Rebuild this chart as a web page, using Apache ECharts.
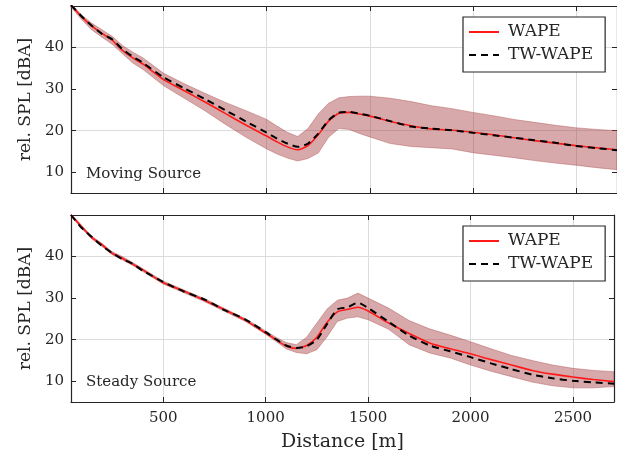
<!DOCTYPE html>
<html lang="en" style="height: 100%">

<head>
  <meta charset="utf-8">
  <title>rel. SPL vs Distance</title>
  <script src="https://cdn.jsdelivr.net/npm/echarts@6.0.0/dist/echarts.min.js"></script>
</head>

<body style="height: 100%; margin: 0; background: #fff">
  <div id="chart" style="height: 459px; width: 617px"></div>
  <script type="text/javascript">
    // distances [m]
    const dist = [50, 100, 150, 200, 250, 300, 350, 400, 500, 600, 700, 800, 900, 1000, 1050, 1100, 1150, 1200,
      1250, 1300, 1350, 1400, 1450, 1500, 1600, 1700, 1800, 1900, 2000, 2100, 2200, 2300, 2400, 2500, 2600, 2700];

    // Moving source
    const topWape = [50.2, 47.5, 45.2, 43.4, 41.8, 39.3, 37.5, 36.0, 32.3, 29.6, 26.9, 24.1, 21.3, 18.7, 17.3, 16.1, 15.4, 16.4,
      19.0, 22.3, 24.2, 24.4, 24.0, 23.5, 22.2, 21.2, 20.4, 20.1, 19.6, 19.0, 18.3, 17.6, 17.0, 16.4, 15.9, 15.4];
    const topTw = [50.2, 47.6, 45.3, 43.3, 42.0, 39.6, 37.8, 36.3, 32.8, 30.2, 27.6, 24.9, 22.2, 19.5, 18.1, 16.9, 16.1, 16.9,
      19.3, 22.5, 24.3, 24.5, 24.1, 23.6, 22.3, 21.0, 20.5, 20.1, 19.5, 18.9, 18.3, 17.7, 17.1, 16.3, 15.8, 15.3];
    const topUpper = [50.6, 47.9, 45.9, 44.3, 42.7, 40.5, 38.9, 37.5, 33.8, 31.3, 29.0, 26.8, 24.8, 22.7, 21.1, 19.6, 18.6, 20.5,
      24.0, 26.6, 27.9, 28.2, 28.3, 28.3, 27.8, 27.0, 26.0, 25.3, 24.4, 23.6, 22.7, 22.0, 21.3, 20.7, 20.3, 20.0];
    const topLower = [49.8, 46.8, 44.3, 42.5, 40.8, 38.5, 36.3, 34.7, 30.8, 27.8, 24.8, 21.5, 18.4, 15.6, 14.4, 13.4, 12.7, 13.3,
      14.6, 18.4, 20.5, 20.3, 19.3, 18.5, 16.9, 16.2, 15.9, 15.6, 14.7, 14.1, 13.5, 12.8, 12.2, 11.7, 11.1, 10.6];

    // Steady source
    const botWape = [50.0, 47.3, 44.6, 42.9, 40.8, 39.6, 38.2, 36.8, 33.7, 31.7, 29.5, 27.2, 24.7, 21.6, 20.0, 18.5, 17.9, 18.6,
      20.6, 24.2, 26.7, 27.3, 27.8, 26.9, 24.0, 21.5, 19.2, 17.8, 16.6, 15.2, 13.9, 12.6, 11.7, 11.0, 10.4, 9.9];
    const botTw = [50.0, 47.0, 44.8, 42.6, 40.9, 39.4, 38.3, 36.6, 33.9, 31.6, 29.7, 27.1, 24.9, 21.8, 20.1, 18.6, 18.0, 18.4,
      20.0, 23.8, 27.3, 27.8, 28.9, 27.6, 24.3, 21.0, 18.6, 17.2, 15.8, 14.3, 12.9, 11.6, 10.7, 10.1, 9.7, 9.4];
    const botUpper = [50.3, 47.6, 45.0, 43.2, 41.2, 40.0, 38.6, 37.1, 34.1, 32.0, 29.9, 27.5, 25.1, 22.1, 20.6, 19.3, 18.8, 20.6,
      24.0, 27.4, 29.5, 30.0, 31.2, 30.0, 27.6, 24.6, 22.6, 21.1, 19.5, 17.8, 16.2, 15.0, 13.9, 13.1, 12.6, 12.3];
    const botLower = [49.7, 46.9, 44.3, 42.5, 40.5, 39.2, 37.9, 36.4, 33.4, 31.3, 29.2, 26.8, 24.4, 21.3, 19.6, 17.8, 16.9, 16.6,
      17.6, 20.7, 24.4, 25.2, 25.5, 24.8, 22.5, 18.8, 16.8, 15.6, 13.9, 12.4, 11.1, 9.8, 8.9, 8.4, 8.4, 8.7];

    const yTicks = [10, 20, 30, 40];
    const panelNames = ['Moving Source', 'Steady Source'];

    const font = 'DejaVu Serif';
    const ink = '#262626';
    const pairs = arr => arr.map((v, i) => [dist[i], v]);

    const grids = [
      { left: 71, right: 0, top: 6, height: 187 },
      { left: 71, right: 0, top: 215, height: 187 }
    ];

    const xAxis = [];
    const yAxis = [];
    [0, 1].forEach(g => {
      // main x axis
      xAxis.push({
        type: 'value', gridIndex: g, min: 50, max: 2700,
        axisLine: { lineStyle: { color: ink, width: 1.2 } },
        axisTick: { inside: true, length: 5, lineStyle: { color: ink } },
        axisLabel: {
          show: g === 1, fontFamily: font, fontSize: 15, color: ink, margin: 9,
          formatter: v => (v % 500 === 0 ? String(v) : '')
        },
        splitLine: { show: true, lineStyle: { color: '#dcdcdc', width: 1 } },
        name: g === 1 ? 'Distance [m]' : '',
        nameLocation: 'middle', nameGap: 31,
        nameTextStyle: { fontFamily: font, fontSize: 19, color: ink }
      });
      // mirrored top axis
      xAxis.push({
        type: 'value', gridIndex: g, min: 50, max: 2700, position: 'top',
        axisLine: { lineStyle: { color: ink, width: 1.2 } },
        axisTick: { inside: true, length: 5, lineStyle: { color: ink } },
        axisLabel: { show: false },
        splitLine: { show: false }
      });
      yAxis.push({
        type: 'value', gridIndex: g, min: 5, max: 50, interval: 5,
        axisLine: { show: true, lineStyle: { color: ink, width: 1.2 } },
        axisTick: { show: true, inside: true, length: 5, customValues: yTicks, lineStyle: { color: ink } },
        axisLabel: {
          fontFamily: font, fontSize: 15, color: ink, margin: 7, customValues: yTicks,
          formatter: v => (yTicks.includes(v) ? String(v) : '')
        },
        splitLine: { show: true, lineStyle: { color: ['rgba(0,0,0,0)', '#dcdcdc'], width: 1 } },
        name: 'rel. SPL [dBA]', nameLocation: 'middle', nameGap: 34,
        nameTextStyle: { fontFamily: font, fontSize: 17, color: ink }
      });
      yAxis.push({
        type: 'value', gridIndex: g, min: 5, max: 50, interval: 5, position: 'right',
        axisLine: { show: true, lineStyle: { color: ink, width: 1.2 } },
        axisTick: { show: true, inside: true, length: 5, customValues: yTicks, lineStyle: { color: ink } },
        axisLabel: { show: false },
        splitLine: { show: false }
      });
    });

    const bandColor = 'rgba(160, 50, 55, 0.42)';
    const sets = [
      [topWape, topTw, topUpper, topLower],
      [botWape, botTw, botUpper, botLower]
    ];
    const series = [];
    sets.forEach((s, g) => {
      const xi = g * 2, yi = g * 2;
      const up = s[2], lo = s[3];
      // spread band drawn as one polygon through the axis scales
      series.push({
        type: 'custom', xAxisIndex: xi, yAxisIndex: yi, silent: true, clip: true, z: 1,
        data: [[dist[0], up[0]]],
        renderItem: (params, api) => {
          const pts = [];
          dist.forEach((d, i) => pts.push(api.coord([d, up[i]])));
          for (let i = dist.length - 1; i >= 0; i--) pts.push(api.coord([dist[i], lo[i]]));
          return {
            type: 'polygon',
            shape: { points: pts },
            style: { fill: bandColor, stroke: 'rgba(170, 70, 70, 0.5)', lineWidth: 0.8 }
          };
        }
      });
      series.push({
        name: 'WAPE', type: 'line', xAxisIndex: xi, yAxisIndex: yi,
        data: pairs(s[0]), showSymbol: false, symbol: 'none', smooth: 0.2,
        lineStyle: { color: '#ff1a1a', width: 1.6 }, itemStyle: { color: '#ff1a1a' }, z: 3
      });
      series.push({
        name: 'TW-WAPE', type: 'line', xAxisIndex: xi, yAxisIndex: yi,
        data: pairs(s[1]), showSymbol: false, symbol: 'none', smooth: 0.2,
        lineStyle: { color: '#000', width: 2, type: [7, 5] }, itemStyle: { color: '#000' }, z: 4
      });
    });

    const legendTops = [17, 226];
    const legend = legendTops.map(t => ({
      data: ['WAPE', 'TW-WAPE'],
      orient: 'vertical',
      left: 463, top: t,
      padding: [6, 12, 8, 5],
      itemWidth: 30, itemHeight: 14, itemGap: 5,
      backgroundColor: '#fff',
      borderColor: ink, borderWidth: 1.2, borderRadius: 0,
      selectedMode: false,
      itemStyle: { opacity: 0 },
      textStyle: { fontFamily: font, fontSize: 17, color: ink, lineHeight: 18, padding: [0, 0, 0, 4] }
    }));

    const title = panelNames.map((n, i) => ({
      text: n, left: 81, top: i === 0 ? 162 : 370,
      textStyle: { fontFamily: font, fontSize: 15, fontWeight: 'normal', color: ink }
    }));

    const chart = echarts.init(document.getElementById('chart'), null, { renderer: 'canvas' });
    chart.setOption({
      animation: false,
      backgroundColor: '#fff',
      grid: grids,
      xAxis: xAxis,
      yAxis: yAxis,
      legend: legend,
      title: title,
      series: series
    });
  </script>
</body>

</html>
